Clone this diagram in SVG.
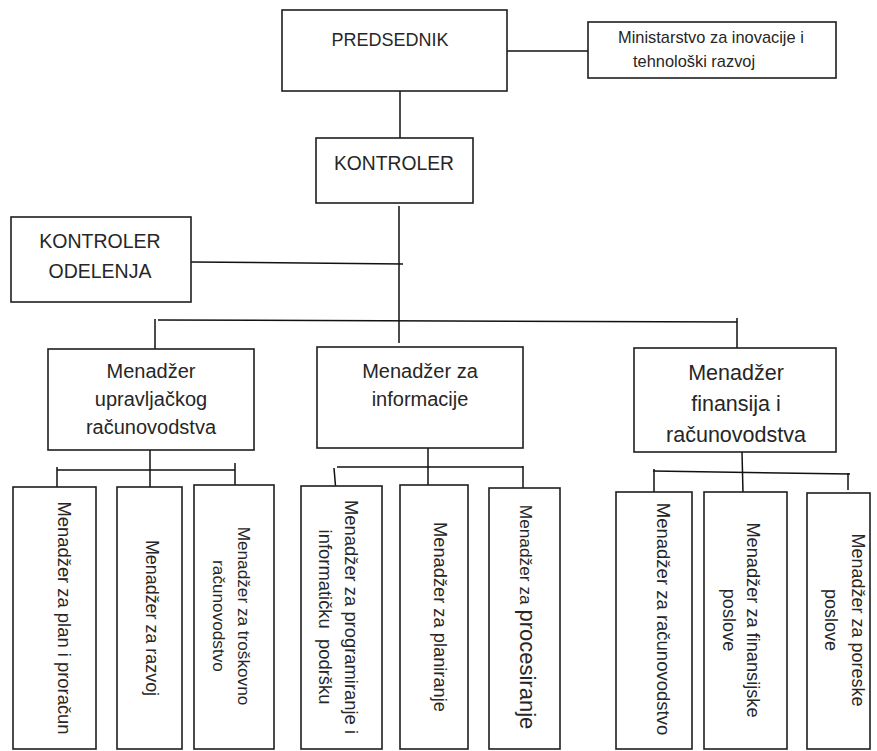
<svg xmlns="http://www.w3.org/2000/svg" width="877" height="751" viewBox="0 0 877 751">
  <style>
    .box { fill: #ffffff; stroke: #1e1e1e; stroke-width: 1.6; }
    .lbl { font-family: "Liberation Sans", Arial, sans-serif; fill: #262626; }
    .mid { text-anchor: middle; }
    .conn line { stroke: #111111; stroke-width: 1.5; }
  </style>
  <rect width="877" height="751" fill="#ffffff"/>

  <!-- connectors -->
  <g id="connectors" class="conn">
    <line x1="507" y1="51" x2="588" y2="51"/>
    <line x1="400" y1="91" x2="400" y2="138"/>
    <line x1="399" y1="206" x2="399" y2="343"/>
    <line x1="191" y1="262" x2="403" y2="264"/>
    <!-- main bus -->
    <line x1="158" y1="320" x2="737" y2="322"/>
    <line x1="155" y1="319" x2="155" y2="349"/>
    <line x1="737" y1="318" x2="737" y2="348"/>
    <!-- left branch -->
    <line x1="150" y1="450" x2="150" y2="490"/>
    <line x1="57" y1="470" x2="235" y2="470"/>
    <line x1="57" y1="467" x2="57" y2="487"/>
    <line x1="235" y1="463" x2="235" y2="485"/>
    <!-- middle branch -->
    <line x1="428" y1="448" x2="428" y2="485"/>
    <line x1="337" y1="467" x2="523" y2="467"/>
    <line x1="334" y1="468" x2="336" y2="492"/>
    <line x1="523" y1="466" x2="523" y2="488"/>
    <!-- right branch -->
    <line x1="742" y1="452" x2="743" y2="493"/>
    <line x1="653" y1="471" x2="850" y2="474"/>
    <line x1="654" y1="469" x2="654" y2="492"/>
    <line x1="848" y1="473" x2="848" y2="490"/>
  </g>

  <g id="predsednik">
    <rect class="box" x="282" y="10" width="225" height="81"/>
    <text class="lbl mid" x="390" y="46" font-size="18">PREDSEDNIK</text>
  </g>

  <g id="ministarstvo">
    <rect class="box" x="588" y="22" width="248" height="56"/>
    <text class="lbl" font-size="16.4"><tspan x="618" y="43">Ministarstvo za inovacije i</tspan><tspan x="633" y="67">tehnološki razvoj</tspan></text>
  </g>

  <g id="kontroler">
    <rect class="box" x="316" y="138" width="157" height="65"/>
    <text class="lbl mid" x="394" y="170" font-size="19.3">KONTROLER</text>
  </g>

  <g id="kontroler-odelenja">
    <rect class="box" x="11" y="217" width="180" height="85"/>
    <text class="lbl mid" font-size="19.5"><tspan x="100" y="248">KONTROLER</tspan><tspan x="100" y="278">ODELENJA</tspan></text>
  </g>

  <g id="menadzer-upravljackog">
    <rect class="box" x="48" y="349" width="206" height="101"/>
    <text class="lbl mid" font-size="20"><tspan x="151" y="378">Menadžer</tspan><tspan x="151" y="406">upravljačkog</tspan><tspan x="151" y="434">računovodstva</tspan></text>
  </g>

  <g id="menadzer-informacije">
    <rect class="box" x="317" y="347" width="206" height="101"/>
    <text class="lbl mid" font-size="20"><tspan x="420" y="378">Menadžer za</tspan><tspan x="420" y="406">informacije</tspan></text>
  </g>

  <g id="menadzer-finansija">
    <rect class="box" x="634" y="348" width="202" height="104"/>
    <text class="lbl mid" font-size="21.5"><tspan x="736" y="380">Menadžer</tspan><tspan x="736" y="411">finansija i</tspan><tspan x="736" y="442">računovodstva</tspan></text>
  </g>

  <!-- vertical boxes, text reads top to bottom -->
  <g id="plan-proracun">
    <rect class="box" x="13" y="487" width="83" height="262"/>
    <text class="lbl mid" font-size="18.4" transform="translate(58,618) rotate(90)">Menadžer za plan i proračun</text>
  </g>

  <g id="razvoj">
    <rect class="box" x="117" y="487" width="65" height="262"/>
    <text class="lbl mid" font-size="17.9" transform="translate(146,618) rotate(90)">Menadžer za razvoj</text>
  </g>

  <g id="troskovno">
    <rect class="box" x="194" y="485" width="80" height="264"/>
    <text class="lbl mid" font-size="17.2" transform="translate(238,616) rotate(90)"><tspan x="0" y="0">Menadžer za troškovno</tspan><tspan x="0" y="25">računovodstvo</tspan></text>
  </g>

  <g id="programiranje">
    <rect class="box" x="301" y="486" width="81" height="263"/>
    <text class="lbl mid" font-size="18.4" transform="translate(345,617) rotate(90)"><tspan x="0" y="0">Menadžer za programiranje i</tspan><tspan x="0" y="26" xml:space="preserve">informatičku  podršku</tspan></text>
  </g>

  <g id="planiranje">
    <rect class="box" x="400" y="485" width="68" height="264"/>
    <text class="lbl mid" font-size="18.3" transform="translate(434,617) rotate(90)">Menadžer za planiranje</text>
  </g>

  <g id="procesiranje">
    <rect class="box" x="489" y="488" width="71" height="261"/>
    <text class="lbl mid" font-size="17.3" transform="translate(520,617) rotate(90)" xml:space="preserve">Menadžer za <tspan font-size="22">procesiranje</tspan></text>
  </g>

  <g id="racunovodstvo">
    <rect class="box" x="616" y="492" width="76" height="257"/>
    <text class="lbl mid" font-size="18.5" transform="translate(657,619) rotate(90)">Menadžer za računovodstvo</text>
  </g>

  <g id="finansijski-poslovi">
    <rect class="box" x="704" y="492" width="83" height="257"/>
    <text class="lbl mid" font-size="18.2" transform="translate(747,620) rotate(90)"><tspan x="0" y="0">Menadžer za finansijske</tspan><tspan x="0" y="24">poslove</tspan></text>
  </g>

  <g id="poreski-poslovi">
    <rect class="box" x="807" y="493" width="63" height="256"/>
    <text class="lbl mid" font-size="18" transform="translate(852,620) rotate(90)"><tspan x="0" y="0">Menadžer za poreske</tspan><tspan x="0" y="27">poslove</tspan></text>
  </g>
</svg>
